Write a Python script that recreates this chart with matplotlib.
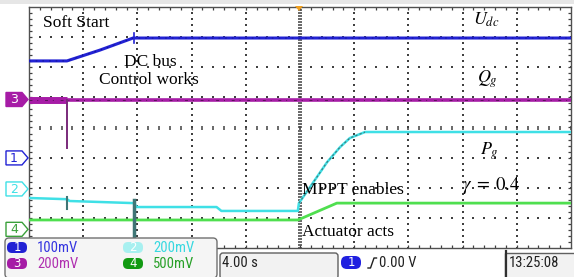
import matplotlib
matplotlib.use("Agg")
import matplotlib.pyplot as plt
from matplotlib.patches import FancyBboxPatch, Polygon, Rectangle
from matplotlib import font_manager
import numpy as np

# ---------------- data (screen divisions: x 0..10, y -4..4) ----------------
udc_t = [0, 0.70, 1.31, 1.92, 10]
udc_v = [2.21, 2.21, 2.57, 2.97, 2.97]

qg_t = [0, 0.70, 10]
qg_v = [0.91, 0.91, 0.91]
qg_spike_t = [0.70, 0.70]
qg_spike_v = [0.91, -0.68]

pg_t = [0, 0.70, 0.75, 1.93, 1.99, 3.46, 3.55, 4.96, 4.98, 5.10, 5.31, 5.50,
        5.74, 5.92, 6.20, 10]
pg_v = [-2.34, -2.38, -2.44, -2.51, -2.64, -2.64, -2.77, -2.77, -2.51, -2.20,
        -1.65, -1.15, -0.65, -0.35, -0.15, -0.15]
pg_spike_t = [1.93, 1.93]
pg_spike_v = [-2.40, -4.0]

act_t = [0, 4.96, 5.68, 10]
act_v = [-3.07, -3.07, -2.51, -2.51]

channel_ids = ['1', '2', '3', '4']
channel_pos = [-1.01, -2.04, 0.93, -3.38]   # marker offsets (div)
scale_labels = ['100mV', '200mV', '200mV', '500mV']
timebase = '4.00 s'
trigger_level = '0.00 V'
clock = '13:25:08'

C_BLUE = '#2222d4'
C_CYAN = '#3fe0e6'
C_PURP = '#a61ca6'
C_GREEN = '#4fdf4f'
C_TEAL = '#3f7676'

# pick a narrow sans font if available
avail = {f.name for f in font_manager.fontManager.ttflist}
narrow_font = None
for cand in ['Liberation Sans Narrow', 'DejaVu Sans Condensed', 'Roboto Condensed',
             'Open Sans Condensed', 'Liberation Sans']:
    if cand in avail:
        narrow_font = cand
        break
if narrow_font is None:
    narrow_font = 'DejaVu Sans'
is_narrow = narrow_font in ('Liberation Sans Narrow', 'Roboto Condensed',
                            'Open Sans Condensed')
nsize_big = 10.5 if is_narrow else 9.2

W, H = 574, 277
fig = plt.figure(figsize=(W / 100, H / 100), dpi=100)
fig.patch.set_facecolor('white')

L, R, T, B = 29, 571, 7, 248
ax = fig.add_axes([L / W, (H - B) / H, (R - L) / W, (B - T) / H])
ax.set_xlim(0, 10)
ax.set_ylim(-4, 4)
ax.set_xticks([])
ax.set_yticks([])
for s in ax.spines.values():
    s.set_color('#505050')
    s.set_linewidth(1.0)

# graticule
gcol = '#404040'
for xd in range(1, 10):
    if xd == 5:
        continue
    ys = np.arange(-4, 4.01, 0.2)
    ax.plot([xd] * len(ys), ys, ls='none', marker='s', ms=1.7, color=gcol, mew=0)
for yd in range(-3, 4):
    if yd == 0:
        continue
    xs = np.arange(0, 10.01, 0.2)
    ax.plot(xs, [yd] * len(xs), ls='none', marker='s', ms=1.7, color=gcol, mew=0)
# centre lines with minor ticks
ys = np.arange(-4, 4.01, 0.1)
ax.plot([5] * len(ys), ys, ls='none', marker='_', ms=3.5, color=gcol, mew=1.1)
xs = np.arange(0, 10.01, 0.2)
ax.plot(xs, [0] * len(xs), ls='none', marker='|', ms=3.5, color=gcol, mew=1.1)
# frame ticks
tx = np.arange(0.2, 10, 0.2)
ax.plot(tx, [4] * len(tx), ls='none', marker='|', ms=5, color='#404040', mew=0.9)
ax.plot(tx, [-4] * len(tx), ls='none', marker='|', ms=5, color='#404040', mew=0.9)
ty = np.arange(-3.8, 4, 0.2)
ax.plot([0] * len(ty), ty, ls='none', marker='_', ms=5, color='#404040', mew=0.9)
ax.plot([10] * len(ty), ty, ls='none', marker='_', ms=5, color='#404040', mew=0.9)

# traces
ax.plot(act_t, act_v, color=C_GREEN, lw=2.0, solid_capstyle='butt', zorder=5)
ax.plot(pg_t, pg_v, color=C_CYAN, lw=1.8, zorder=6)
ax.plot(pg_t[8:15], pg_v[8:15], color=C_TEAL, lw=0.8, ls=(0, (2, 2)), zorder=6)
ax.plot(pg_spike_t, pg_spike_v, color=C_TEAL, lw=2.5, zorder=6)
ax.plot([0.70, 0.70], [-2.30, -2.72], color=C_TEAL, lw=1.5, zorder=6)
ax.plot(qg_t[:2], qg_v[:2], color=C_PURP, lw=5.0, solid_capstyle='butt', zorder=7)
ax.plot(qg_t[1:], qg_v[1:], color=C_PURP, lw=2.6, solid_capstyle='butt', zorder=7)
ax.plot(qg_t, qg_v, color='#5a105a', lw=0.7, ls=(0, (3, 5, 1, 7)), zorder=7)
ax.plot(qg_spike_t, qg_spike_v, color='#7a2a7a', lw=1.4, zorder=7)
ax.plot(udc_t, udc_v, color=C_BLUE, lw=2.2, zorder=8)
ax.plot(udc_t, udc_v, color='#10108a', lw=0.6, ls=(0, (2, 6)), zorder=8)
ax.plot([1.93, 1.93], [2.8, 3.15], color=C_BLUE, lw=1.2, zorder=8)

# ---------------- overlay in pixel coordinates ----------------
ov = fig.add_axes([0, 0, 1, 1])
ov.set_xlim(0, W)
ov.set_ylim(H, 0)
ov.axis('off')
ov.patch.set_alpha(0)

ov.add_patch(Rectangle((0, 0), W, 4, color='#e6e6e6', lw=0))

# trigger marker
ov.add_patch(Polygon([[295, 6], [303, 6], [299, 11]], closed=True,
                     color='#f0a020', lw=0))

def ypix(v):
    return (T + B) / 2 - v * (B - T) / 8

# channel markers
mk_styles = {'1': (C_BLUE, False), '2': (C_CYAN, False),
             '3': (C_PURP, True), '4': ('#3aa03a', False)}
for cid, pos in zip(channel_ids, channel_pos):
    col, filled = mk_styles[cid]
    yc = ypix(pos)
    pts = [[6, yc - 7], [22, yc - 7], [28, yc], [22, yc + 7], [6, yc + 7]]
    ov.add_patch(Polygon(pts, closed=True, facecolor=col if filled else 'white',
                         edgecolor=col, lw=1.0, zorder=3))
    ov.text(14, yc + 0.5, cid, color='white' if filled else col, fontsize=9,
            ha='center', va='center', family='DejaVu Sans', zorder=4)

# annotations
serif = dict(family='Liberation Serif', fontsize=12.5, color='black')
ov.text(43, 23, 'Soft Start', va='center', ha='left', **serif)
ov.text(150, 62, 'DC bus', va='center', ha='center', **serif)
ov.text(149, 80, 'Control works', va='center', ha='center', **serif)
ov.text(302, 190, 'MPPT enables', va='center', ha='left', **serif)
ov.text(302, 232, 'Actuator acts', va='center', ha='left', **serif)
plt.rcParams['mathtext.fontset'] = 'stix'
ov.text(473, 20, r'$U_{dc}$', va='center', ha='left', fontsize=13)
ov.text(477, 79, r'$Q_{g}$', va='center', ha='left', fontsize=13)
ov.text(480, 151, r'$P_{g}$', va='center', ha='left', fontsize=13)
ov.text(462, 185, r'$\gamma\;=\;0.4$', va='center', ha='left', fontsize=13.5)

# bottom status bar
ov.add_patch(FancyBboxPatch((5, 238), 212, 40, boxstyle='round,pad=0,rounding_size=4',
                            facecolor='#f5f5f5', edgecolor='#707070', lw=1.0, zorder=5))
badge_cols = [C_BLUE, '#a8f0f0', C_PURP, '#129a12']
text_cols = ['#3434e0', '#38d8e0', '#b030b0', '#28a028']
bx = [7, 123, 7, 123]
by = [247.5, 247.5, 263.5, 263.5]
for cid, lab, bc, tc, x0, y0 in zip(channel_ids, scale_labels, badge_cols,
                                    text_cols, bx, by):
    ov.add_patch(FancyBboxPatch((x0, y0 - 5.5), 20, 11,
                                boxstyle='round,pad=0,rounding_size=5',
                                facecolor=bc, edgecolor='none', zorder=6))
    ov.text(x0 + 10, y0 + 0.3, cid, color='white', fontsize=8.5, ha='center',
            va='center', family='DejaVu Sans', zorder=7)
    ov.text(x0 + 30, y0, lab, color=tc, fontsize=nsize_big, ha='left', va='center',
            family=narrow_font, zorder=7)

# timebase box
ov.add_patch(FancyBboxPatch((220, 253), 118, 26, boxstyle='round,pad=0,rounding_size=3',
                            facecolor='#f2f2f2', edgecolor='#606060', lw=1.0, zorder=5))
ov.text(222, 263, timebase, fontsize=nsize_big, ha='left', va='center',
        family=narrow_font, color='#202020', zorder=6)
ov.add_patch(FancyBboxPatch((341, 256), 20, 13, boxstyle='round,pad=0,rounding_size=6',
                            facecolor='#2020e0', edgecolor='none', zorder=6))
ov.text(351, 262.8, '1', color='white', fontsize=8.5, ha='center', va='center',
        family='DejaVu Sans', zorder=7)
ov.plot([368, 370.5, 374, 376.5], [268, 268, 258, 258], color='#202020', lw=1.0,
        zorder=7)
ov.text(379, 263, trigger_level, fontsize=nsize_big, ha='left', va='center',
        family=narrow_font, color='#202020', zorder=6)
ov.add_patch(Rectangle((505, 253), 70, 26, facecolor='#f2f2f2', edgecolor='#606060',
                       lw=1.0, zorder=5))
ov.plot([506, 506], [251, 277], color='#303030', lw=1.6, zorder=6)
ov.text(509, 263, clock, fontsize=nsize_big, ha='left', va='center',
        family=narrow_font, color='#202020', zorder=6)

fig.savefig('out.png', dpi=100)
